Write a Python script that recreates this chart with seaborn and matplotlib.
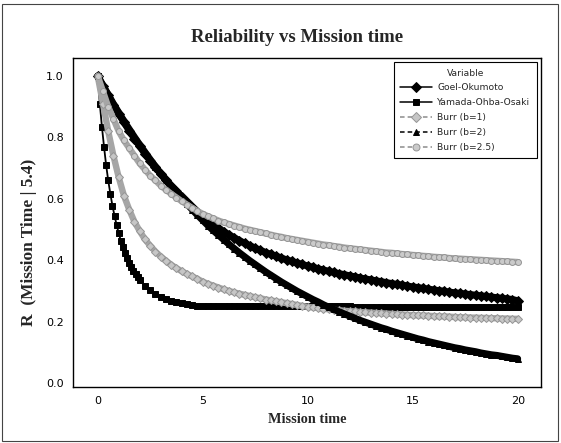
import matplotlib
matplotlib.use("Agg")
import matplotlib.pyplot as plt
from matplotlib.patches import Rectangle
import seaborn as sns
import pandas as pd

# ---------------- data ----------------
mission_time = [i * 0.25 for i in range(81)]            # 0 .. 20 step 0.25
yamada_time = [i / 10 for i in range(21)] + [2 + 0.25 * i for i in range(1, 73)]

goel_okumoto = [
    1.000, 0.968, 0.937, 0.906, 0.877, 0.849, 0.822, 0.796,
    0.771, 0.747, 0.724, 0.702, 0.681, 0.661, 0.642, 0.624,
    0.606, 0.589, 0.573, 0.558, 0.543, 0.530, 0.517, 0.505,
    0.493, 0.483, 0.473, 0.464, 0.455, 0.447, 0.439, 0.432,
    0.425, 0.419, 0.413, 0.407, 0.401, 0.396, 0.391, 0.386,
    0.381, 0.377, 0.372, 0.368, 0.364, 0.360, 0.356, 0.353,
    0.349, 0.346, 0.342, 0.339, 0.336, 0.333, 0.330, 0.327,
    0.324, 0.321, 0.319, 0.316, 0.313, 0.311, 0.308, 0.306,
    0.303, 0.301, 0.299, 0.296, 0.294, 0.292, 0.290, 0.288,
    0.286, 0.284, 0.282, 0.280, 0.278, 0.276, 0.274, 0.272,
    0.268]

yamada_ohba_osaki = [
    1.000, 0.910, 0.835, 0.770, 0.710, 0.660, 0.617, 0.578,
    0.545, 0.515, 0.488, 0.464, 0.443, 0.424, 0.407, 0.392,
    0.378, 0.365, 0.354, 0.344, 0.335,
    0.317, 0.302, 0.290, 0.281, 0.274, 0.268, 0.263, 0.259,
    0.256, 0.254, 0.252, 0.251,
    0.250, 0.250, 0.250, 0.250, 0.250, 0.250, 0.250, 0.250,
    0.250, 0.250, 0.250, 0.250, 0.250, 0.250, 0.250, 0.250,
    0.250, 0.250, 0.250, 0.250, 0.250, 0.250, 0.250, 0.250,
    0.250, 0.250, 0.250, 0.250,
    0.249, 0.249, 0.249, 0.249, 0.249, 0.249, 0.249, 0.249,
    0.249, 0.249, 0.249, 0.249, 0.249, 0.249, 0.249, 0.249,
    0.249, 0.249, 0.249, 0.249, 0.249, 0.249, 0.249, 0.249,
    0.249, 0.249, 0.249, 0.249, 0.249, 0.249, 0.249, 0.249]

burr_b1 = [
    1.000, 0.910, 0.820, 0.740, 0.670, 0.610, 0.565, 0.525,
    0.495, 0.468, 0.447, 0.428, 0.412, 0.398, 0.385, 0.374,
    0.364, 0.355, 0.347, 0.339, 0.330, 0.323, 0.317, 0.311,
    0.305, 0.300, 0.295, 0.291, 0.287, 0.283, 0.279, 0.276,
    0.272, 0.269, 0.266, 0.263, 0.260, 0.257, 0.254, 0.251,
    0.248, 0.246, 0.244, 0.242, 0.240, 0.238, 0.237, 0.235,
    0.234, 0.233, 0.231, 0.230, 0.229, 0.228, 0.227, 0.226,
    0.225, 0.224, 0.223, 0.222, 0.221, 0.220, 0.220, 0.219,
    0.218, 0.217, 0.217, 0.216, 0.215, 0.214, 0.214, 0.213,
    0.213, 0.212, 0.212, 0.211, 0.211, 0.210, 0.210, 0.209,
    0.209]

burr_b2 = [
    1.000, 0.969, 0.939, 0.909, 0.881, 0.853, 0.827, 0.801,
    0.776, 0.752, 0.728, 0.705, 0.683, 0.662, 0.641, 0.621,
    0.602, 0.583, 0.565, 0.547, 0.530, 0.513, 0.497, 0.482,
    0.467, 0.452, 0.438, 0.424, 0.411, 0.398, 0.386, 0.374,
    0.362, 0.351, 0.340, 0.329, 0.319, 0.309, 0.299, 0.290,
    0.281, 0.272, 0.264, 0.255, 0.247, 0.240, 0.232, 0.225,
    0.218, 0.211, 0.204, 0.198, 0.192, 0.186, 0.180, 0.175,
    0.169, 0.164, 0.159, 0.154, 0.149, 0.144, 0.140, 0.135,
    0.131, 0.127, 0.123, 0.119, 0.115, 0.112, 0.108, 0.105,
    0.102, 0.098, 0.095, 0.092, 0.090, 0.087, 0.084, 0.081,
    0.079]

burr_b25 = [
    1.000, 0.950, 0.900, 0.860, 0.820, 0.790, 0.765, 0.740,
    0.715, 0.695, 0.675, 0.660, 0.643, 0.629, 0.616, 0.604,
    0.592, 0.581, 0.570, 0.560, 0.551, 0.543, 0.536, 0.529,
    0.523, 0.518, 0.513, 0.508, 0.503, 0.499, 0.495, 0.491,
    0.487, 0.483, 0.479, 0.476, 0.472, 0.469, 0.466, 0.463,
    0.460, 0.457, 0.454, 0.451, 0.449, 0.446, 0.444, 0.441,
    0.439, 0.437, 0.435, 0.433, 0.431, 0.429, 0.427, 0.425,
    0.424, 0.422, 0.420, 0.419, 0.417, 0.416, 0.414, 0.413,
    0.411, 0.410, 0.409, 0.407, 0.406, 0.405, 0.404, 0.403,
    0.402, 0.401, 0.400, 0.399, 0.398, 0.397, 0.396, 0.395,
    0.394]

series_names = ["Goel-Okumoto", "Yamada-Ohba-Osaki", "Burr (b=1)", "Burr (b=2)", "Burr (b=2.5)"]
series_x = [mission_time, yamada_time, mission_time, mission_time, mission_time]
series_y = [goel_okumoto, yamada_ohba_osaki, burr_b1, burr_b2, burr_b25]

# ---------------- styles ----------------
GRAY_LINE = "#a6a6a6"
styles = {
    "Goel-Okumoto":      dict(color="black", marker="D", ms=4.6, mfc="black", mec="black",
                              lw=5.0, leg_ls="-"),
    "Yamada-Ohba-Osaki": dict(color="black", marker="s", ms=4.6, mfc="black", mec="black",
                              lw=1.3, leg_ls="-"),
    "Burr (b=1)":        dict(color=GRAY_LINE, marker="D", ms=3.9, mfc="#c6c6c6", mec="#959595",
                              lw=4.6, leg_ls=(0, (3, 2))),
    "Burr (b=2)":        dict(color="black", marker="^", ms=4.8, mfc="black", mec="black",
                              lw=5.0, leg_ls=(0, (3, 2))),
    "Burr (b=2.5)":      dict(color=GRAY_LINE, marker="o", ms=4.3, mfc="#cacaca", mec="#959595",
                              lw=4.6, leg_ls=(0, (3, 2))),
}

sns.set_style("white")
plt.rcParams["font.family"] = ["DejaVu Sans"]

fig = plt.figure(figsize=(5.61, 4.43), dpi=100)
ax = fig.add_axes([0.130, 0.1264, 0.834, 0.7427])

for name, xs, ys in zip(series_names, series_x, series_y):
    df = pd.DataFrame({"Mission time": xs, "R": ys})
    st = styles[name]
    sns.lineplot(data=df, x="Mission time", y="R", ax=ax, label=name,
                 color=st["color"], marker=st["marker"], markersize=st["ms"],
                 markerfacecolor=st["mfc"], markeredgecolor=st["mec"],
                 markeredgewidth=0.7, linestyle="-", linewidth=st["lw"],
                 solid_capstyle="round", solid_joinstyle="round",
                 errorbar=None, sort=True)

ax.set_xlim(-1.18, 21.1)
ax.set_ylim(-0.013, 1.0586)
ax.set_xticks([0, 5, 10, 15, 20])
ax.set_yticks([0.0, 0.2, 0.4, 0.6, 0.8, 1.0])
ax.set_yticklabels(["0.0", "0.2", "0.4", "0.6", "0.8", "1.0"])
ax.tick_params(axis="both", direction="out", length=3.5, width=0.8,
               labelsize=8, colors="black", pad=3)
for sp in ax.spines.values():
    sp.set_visible(True)
    sp.set_color("black")
    sp.set_linewidth(1.0)

ax.set_xlabel("Mission time", family="Liberation Serif", fontweight="bold", fontsize=10.3, labelpad=5)
ax.set_ylabel("R  (Mission Time | 5.4)", family="Liberation Serif", fontweight="bold", fontsize=12.5, labelpad=6)
ax.yaxis.set_label_coords(-0.077, 0.44)
fig.text(0.53, 0.915, "Reliability vs Mission time", family="Liberation Serif",
         fontweight="bold", fontsize=13.5, ha="center", va="center")

leg = ax.legend(title="Variable", loc="upper right", fontsize=6.6, title_fontsize=6.6,
                frameon=True, fancybox=False, edgecolor="black", framealpha=1,
                handlelength=3.4, borderaxespad=0.45, labelspacing=0.64, borderpad=0.7,
                handletextpad=0.6)
leg.get_frame().set_linewidth(0.8)
for h, name in zip(leg.legend_handles, series_names):
    st = styles[name]
    h.set_linewidth(1.1)
    h.set_linestyle(st["leg_ls"])
    h.set_color("black" if st["color"] == "black" else "#8c8c8c")
    h.set_markerfacecolor(st["mfc"])
    h.set_markeredgecolor(st["mec"])
    h.set_markersize(5.0)

fig.patches.append(Rectangle((0.004, 0.005), 0.991, 0.986, transform=fig.transFigure,
                             fill=False, ec="#444444", lw=0.8))

fig.savefig("out.png", dpi=100)
